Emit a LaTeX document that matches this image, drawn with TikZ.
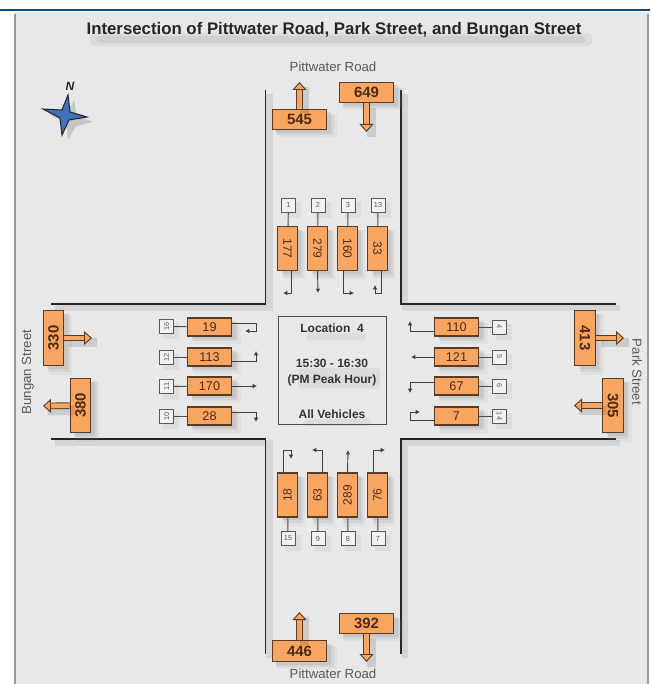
\documentclass[tikz,border=0pt]{standalone}
\usepackage{fontspec}
\setmainfont{Liberation Sans}
\usepackage{graphicx}
\usetikzlibrary{arrows.meta,shadows}
\definecolor{panel}{HTML}{E7E8E9}
\definecolor{topbar}{HTML}{0E4A7E}
\definecolor{flow}{HTML}{FBA660}
\definecolor{flowline}{HTML}{5A3C24}
\definecolor{flowtext}{HTML}{4A2A14}
\definecolor{star}{HTML}{3F73C0}
\newcommand{\dn}[1]{\rotatebox{-90}{#1}}
\newcommand{\up}[1]{\rotatebox{90}{#1}}

\begin{document}
\begin{tikzpicture}[
  x=0.75pt, y=-0.75pt,
  soft/.style={drop shadow={shadow xshift=5pt, shadow yshift=-4.5pt, opacity=.07, shadow scale=1.1},
               drop shadow={shadow xshift=4pt, shadow yshift=-3.5pt, opacity=.12, shadow scale=1.05},
               drop shadow={shadow xshift=3pt, shadow yshift=-2.5pt, opacity=.16}},
  base/.style={draw=flowline, line width=.8pt, fill=flow, inner sep=0pt, text=flowtext, soft},
  totalh/.style={base, minimum width=41pt, minimum height=15.5pt, font=\fontsize{11.2}{12}\selectfont\bfseries},
  totalv/.style={base, minimum width=15.5pt, minimum height=41pt, font=\fontsize{11.2}{12}\selectfont\bfseries},
  turnh/.style={base, minimum width=33pt, minimum height=13.5pt, font=\fontsize{9.5}{11}\selectfont},
  turnv/.style={base, minimum width=14.5pt, minimum height=33pt, font=\fontsize{9}{11}\selectfont},
  idbox/.style={draw=black!65, line width=.7pt, fill=black!5, inner sep=0pt, minimum size=10.5pt,
                text=black!65, font=\fontsize{5.5}{6}\selectfont,
                drop shadow={shadow xshift=3pt, shadow yshift=-3pt, opacity=.1, shadow scale=1.15}},
  road/.style={draw=black!85, line width=1.1pt,
               preaction={draw=black, opacity=.08, line width=5pt, transform canvas={shift={(3pt,-3pt)}}}},
  lnk/.style={draw=black!70, line width=.7pt},
  tail/.style={draw=black!75, line width=.7pt, -{Latex[length=3.2pt,width=3.4pt]}},
  bigarr/.style={draw=flowline, line width=.7pt, double=flow, double distance=3.6pt,
                 -{Triangle[length=6pt,width=10.5pt,fill=flow,line width=.7pt]},
                 preaction={-, draw=black, opacity=.12, double=none, line width=7pt, transform canvas={shift={(3.5pt,-3.5pt)}}}},
  street/.style={text=black!65, font=\fontsize{9.9}{11}\selectfont},
  info/.style={text=black!80, font=\fontsize{9}{10}\selectfont\bfseries, inner sep=0pt},
  haze/.style={fill=black, opacity=.05, rounded corners=3pt}]

  \useasboundingbox (0,0) rectangle (650,684);

  % page and panel
  \fill[panel] (14,12) rectangle (649,684);
  \fill[black!40] (14,12) rectangle (16,684);
  \fill[black!40] (647,12) rectangle (649,684);
  \fill[black!10] (14,12) rectangle (649,14);
  \fill[topbar] (0,9) rectangle (650,11.5);

  % title
  \fill[haze] (90,33) rectangle (592,46);
  \fill[haze] (96,36) rectangle (586,43);
  \node[text=black!85, font=\fontsize{12.6}{14}\selectfont\bfseries] (title) at (334,30)
       {Intersection of Pittwater Road, Park Street, and Bungan Street};

  % north star
  \fill[black, opacity=.15] (74,100) -- (77,116) -- (93,122) -- (76,126) -- (68,140) -- (66,124) -- (49,114) -- (68,112) -- cycle;
  \draw[fill=star, draw=black!85, line width=.8pt] (68,95) -- (70,112) -- (87,117) -- (69,120) -- (62,135)
       -- (60,118) -- (43,109) -- (62,110) -- cycle;
  \node[font=\fontsize{9}{11}\selectfont\bfseries\itshape, text=black!85, inner sep=0pt] (north) at (70,86) {N};

  % streets
  \draw[road] (265.5,90) -- (265.5,304) -- (51,304);
  \draw[road] (401,90) -- (401,304) -- (616,304);
  \draw[road] (51,439) -- (265.5,439) -- (265.5,654);
  \draw[road] (616,439) -- (401,439) -- (401,654);

  \node[street] (pitn) at (333,67) {Pittwater Road};
  \node[street] (pits) at (333,674) {Pittwater Road};
  \node[street, rotate=90] (bung) at (28,372) {Bungan Street};
  \node[street, rotate=-90] (park) at (637,372) {Park Street};

  % centre box
  \node[draw=black!70, line width=.8pt, fill=panel, minimum size=81.5pt, inner sep=0pt] (loc) at (332.5,370.5) {};
  \fill[haze] (306,333) rectangle (366,340);
  \fill[haze] (298,368) rectangle (380,388);
  \fill[haze] (304,419) rectangle (372,426);
  \node[info] (loc1) at (332,328.5) {Location\ \ 4};
  \node[info] (loc2) at (332,363) {15:30 - 16:30};
  \node[info] (loc3) at (332,380) {(PM Peak Hour)};
  \node[info] (loc4) at (332,414) {All Vehicles};

  % totals
  \node[totalh] (t545) at (299.5,119.5) {545};
  \node[totalh] (t649) at (366.5,92.5) {649};
  \node[totalh] (t446) at (299.5,651) {446};
  \node[totalh] (t392) at (366.5,623.5) {392};
  \node[totalv] (t330) at (53.5,338) {\up{330}};
  \node[totalv] (t380) at (80.5,405.5) {\up{380}};
  \node[totalv] (t413) at (585,338) {\dn{413}};
  \node[totalv] (t305) at (613,405.5) {\dn{305}};

  \coordinate (e545) at (299.5,82);
  \coordinate (e649) at (366.5,132);
  \coordinate (e446) at (299.5,612);
  \coordinate (e392) at (366.5,662);
  \coordinate (e330) at (92,338);
  \coordinate (e380) at (43,406);
  \coordinate (e413) at (624,338);
  \coordinate (e305) at (574,405.5);

  \draw[bigarr] (t545) -- (e545);
  \draw[bigarr] (t649) -- (e649);
  \draw[bigarr] (t446) -- (e446);
  \draw[bigarr] (t392) -- (e392);
  \draw[bigarr] (t330) -- (e330);
  \draw[bigarr] (t380) -- (e380);
  \draw[bigarr] (t413) -- (e413);
  \draw[bigarr] (t305) -- (e305);

  % north approach
  \node[idbox] (n1) at (288.5,205) {1};
  \node[idbox] (n2) at (318,205) {2};
  \node[idbox] (n3) at (348,205) {3};
  \node[idbox] (n13) at (378,205) {13};
  \node[turnv] (b177) at (287.5,248.5) {\dn{177}};
  \node[turnv] (b279) at (317.5,248.5) {\dn{279}};
  \node[turnv] (b160) at (347.5,248.5) {\dn{160}};
  \node[turnv] (b33) at (377.5,248.5) {\dn{33}};
  \draw[lnk] (n1) -- (b177);
  \draw[lnk] (n2) -- (b279);
  \draw[lnk] (n3) -- (b160);
  \draw[lnk] (n13) -- (b33);
  \coordinate (e177) at (283,293);
  \coordinate (e279) at (318,293);
  \coordinate (e160) at (354,293);
  \coordinate (c33) at (375,293);
  \coordinate (e33) at (375,285);
  \draw[tail] ([xshift=3pt]b177.south) |- (e177);
  \draw[tail] (b279.south) -- (e279);
  \draw[tail] ([xshift=-3pt]b160.south) |- (e160);
  \draw[tail] ([xshift=3pt]b33.south) |- (c33) -- (e33);

  % south approach
  \node[idbox] (n15) at (288,538.5) {15};
  \node[idbox] (n9) at (318,538.5) {9};
  \node[idbox] (n8) at (348,538.5) {8};
  \node[idbox] (n7) at (378,538.5) {7};
  \node[turnv] (b18) at (287.5,495) {\up{18}};
  \node[turnv] (b63) at (317.5,495) {\up{63}};
  \node[turnv] (b289) at (347.5,495) {\up{289}};
  \node[turnv] (b76) at (377.5,495) {\up{76}};
  \draw[lnk] (n15) -- (b18);
  \draw[lnk] (n9) -- (b63);
  \draw[lnk] (n8) -- (b289);
  \draw[lnk] (n7) -- (b76);
  \coordinate (c18) at (291,450);
  \coordinate (e18) at (291,459);
  \coordinate (e63) at (312,450);
  \coordinate (e289) at (348,450);
  \coordinate (e76) at (385,450);
  \draw[tail] ([xshift=-3pt]b18.north) |- (c18) -- (e18);
  \draw[tail] ([xshift=3.5pt]b63.north) |- (e63);
  \draw[tail] (b289.north) -- (e289);
  \draw[tail] ([xshift=-3pt]b76.north) |- (e76);

  % west approach
  \node[idbox] (n16) at (166.5,326.5) {\up{16}};
  \node[idbox] (n12) at (166.5,357) {\up{12}};
  \node[idbox] (n11) at (166.5,386.5) {\up{11}};
  \node[idbox] (n10) at (166.5,416) {\up{10}};
  \node[turnh] (b19) at (209.5,327) {19};
  \node[turnh] (b113) at (209.5,357) {113};
  \node[turnh] (b170) at (209.5,386) {170};
  \node[turnh] (b28) at (209.5,416) {28};
  \draw[lnk] (n16) -- (b19);
  \draw[lnk] (n12) -- (b113);
  \draw[lnk] (n11) -- (b170);
  \draw[lnk] (n10) -- (b28);
  \coordinate (c19) at (256,331);
  \coordinate (e19) at (245,331);
  \coordinate (e113) at (256,351);
  \coordinate (e170) at (257,386);
  \coordinate (e28) at (256,422);
  \draw[tail] ([yshift=3pt]b19.east) -| (c19) -- (e19);
  \draw[tail] ([yshift=-3pt]b113.east) -| (e113);
  \draw[tail] (b170.east) -- (e170);
  \draw[tail] ([yshift=3pt]b28.east) -| (e28);

  % east approach
  \node[idbox] (n4) at (499.5,327) {\dn{4}};
  \node[idbox] (n5) at (499.5,357) {\dn{5}};
  \node[idbox] (n6) at (499.5,386) {\dn{6}};
  \node[idbox] (n14) at (499.5,416) {\dn{14}};
  \node[turnh] (b110) at (456.5,327) {110};
  \node[turnh] (b121) at (456.5,357) {121};
  \node[turnh] (b67) at (456.5,386) {67};
  \node[turnh] (b7) at (456.5,416) {7};
  \draw[lnk] (n4) -- (b110);
  \draw[lnk] (n5) -- (b121);
  \draw[lnk] (n6) -- (b67);
  \draw[lnk] (n14) -- (b7);
  \coordinate (e110) at (410,321);
  \coordinate (e121) at (411,357);
  \coordinate (e67) at (410,393);
  \coordinate (c7) at (410,412);
  \coordinate (e7) at (420,412);
  \draw[tail] ([yshift=-3pt]b110.west) -| (e110);
  \draw[tail] (b121.west) -- (e121);
  \draw[tail] ([yshift=3pt]b67.west) -| (e67);
  \draw[tail] ([yshift=-3pt]b7.west) -| (c7) -- (e7);
\end{tikzpicture}
\end{document}
